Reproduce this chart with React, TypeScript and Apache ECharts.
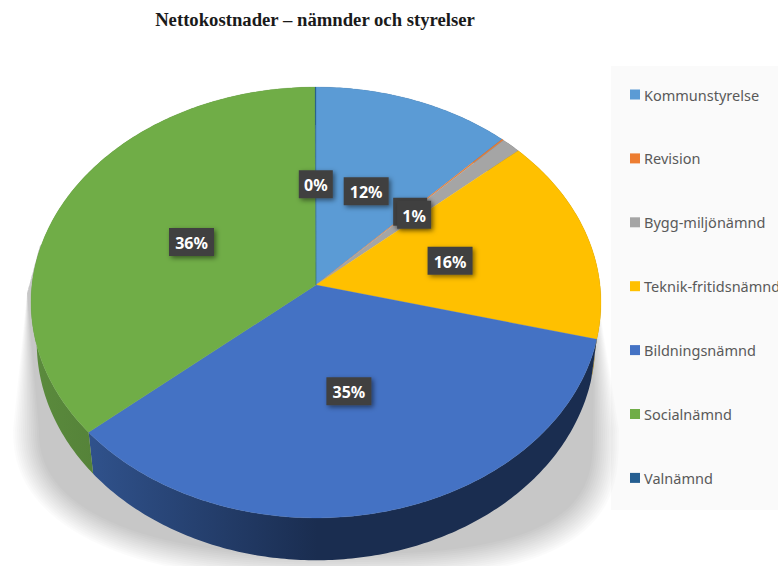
import React, { useEffect, useRef } from "react";
import * as echarts from "echarts";

const titleText = "Nettokostnader – nämnder och styrelser";
const categories = ["Kommunstyrelse", "Revision", "Bygg-miljönämnd", "Teknik-fritidsnämnd", "Bildningsnämnd", "Socialnämnd", "Valnämnd"];
const shares = [12.2, 0.1, 1.2, 15.5, 34.7, 36.25, 0.05];
const faceColors = ["#5B9BD5", "#ED7D31", "#A5A5A5", "#FFC000", "#4472C4", "#70AD47", "#255E91"];
const wallStart = ["#365d80", "#8e4b1d", "#636363", "#997300", "#30528c", "#5b8b3d", "#163855"];
const wallEnd = ["#365d80", "#8e4b1d", "#636363", "#997300", "#1a2d50", "#4f7a35", "#163855"];

// Perspective pie: a tilted disc projected to the page
const CX = 316, CY = 285, SX = 284, SY = 214, K = 0.0812;
const project = (deg: number, r = 1): [number, number] => {
  const a = (deg * Math.PI) / 180;
  const X = r * Math.sin(a), Y = -r * Math.cos(a);
  const w = 1 - K * Y;
  return [CX + (SX * X) / w, CY + (SY * Y) / w];
};
const bottom = (p: [number, number]): [number, number] => [CX + (p[0] - CX) * 0.98, CY + (p[1] - CY) * 1.01 + 40];

const total = shares.reduce((a, b) => a + b, 0);
let running = 0;
const ranges = shares.map((v) => {
  const s = (running / total) * 360;
  running += v;
  return [s, (running / total) * 360, v];
});

const arc = (s: number, e: number) => {
  const n = Math.max(2, Math.ceil((e - s) / 0.75));
  const pts: [number, number][] = [];
  for (let i = 0; i <= n; i++) pts.push(project(s + ((e - s) * i) / n));
  return pts;
};

// Soft cast shadow: nested translucent outlines that fade outwards
const shadowLayers = 14;
const shadowOutline = (t: number) => {
  const pts: [number, number][] = [[595, 280]];
  for (let d = 0; d <= 180; d += 3) {
    const a = (d * Math.PI) / 180;
    const c = Math.cos(a), s = Math.sin(a);
    const n = c >= 0 ? 3 : 2.3;
    const x = Math.sign(c) * Math.pow(Math.abs(c), 2 / n);
    const y = Math.pow(s, 2 / n);
    pts.push([316 + 303 * t * x, 430 + 150 * (1 - 2 * (1 - t)) * y]);
  }
  pts.push([27, 293], [40, 245]);
  return pts;
};
const layerIndex = Array.from({ length: shadowLayers }, (_, i) => [i]);

export default function App() {
  const ref = useRef<HTMLDivElement>(null);
  useEffect(() => {
    document.body.style.margin = "0";
    document.body.style.overflow = "hidden";
    const chart = echarts.init(ref.current!, undefined, { renderer: "svg" });
    const faceSeries = categories.map((name, i) => ({
      type: "custom",
      name,
      coordinateSystem: "none",
      z: 3,
      itemStyle: { color: faceColors[i] },
      data: [ranges[i]],
      renderItem: (_p: any, api: any) => ({
        type: "polygon",
        shape: { points: [project(0, 0), ...arc(api.value(0), api.value(1))] },
        style: { fill: faceColors[i], stroke: faceColors[i], lineWidth: 0.3 },
      }),
    }));
    chart.setOption({
      animation: false,
      backgroundColor: "#ffffff",
      title: {
        text: titleText,
        left: 310,
        top: 5,
        textAlign: "center",
        textStyle: { fontFamily: "Liberation Serif", fontWeight: "bold", fontSize: 18.7, color: "#1a1a1a" },
      },
      legend: {
        orient: "vertical",
        left: 630,
        top: 87,
        padding: 0,
        itemWidth: 10,
        itemHeight: 10,
        itemGap: 48.9,
        icon: "rect",
        z: 6,
        data: categories,
        selectedMode: false,
        textStyle: { fontFamily: "Noto Sans", fontSize: 14.5, color: "#595959", lineHeight: 14, padding: [0, 0, 0, -1] },
      },
      graphic: [
        { type: "rect", z: 0, shape: { x: 611, y: 66, width: 167, height: 444 }, style: { fill: "#fafafa" } },
      ],
      series: [
        {
          type: "custom",
          name: "shadow",
          coordinateSystem: "none",
          z: 1,
          data: layerIndex,
          renderItem: (_p: any, api: any) => ({
            type: "polygon",
            shape: { points: shadowOutline(1 - (api.value(0) * 0.085) / (shadowLayers - 1)) },
            style: { fill: "rgba(0,0,0,0.0158)" },
          }),
        },
        {
          type: "custom",
          name: "walls",
          coordinateSystem: "none",
          z: 2,
          data: ranges,
          renderItem: (p: any, api: any) => {
            const top = arc(api.value(0), api.value(1));
            const low = top.map(bottom).reverse();
            return {
              type: "polygon",
              shape: { points: [...top, ...low] },
              style: {
                fill: {
                  type: "linear", x: 0, y: 0, x2: 1, y2: 0,
                  colorStops: [
                    { offset: 0, color: wallStart[p.dataIndex] },
                    { offset: 0.45, color: wallEnd[p.dataIndex] },
                    { offset: 1, color: wallEnd[p.dataIndex] },
                  ],
                },
              },
            };
          },
        },
        ...faceSeries,
        {
          type: "custom",
          name: "labels",
          coordinateSystem: "none",
          z: 4,
          data: ranges,
          renderItem: (_p: any, api: any) => {
            const [x, y] = project((api.value(0) + api.value(1)) / 2, 0.49);
            const text = Math.round(api.value(2)) + "%";
            const w = text.length === 2 ? 34 : 45;
            return {
              type: "group",
              children: [
                {
                  type: "rect",
                  shape: { x: x - w / 2, y: y - 14, width: w, height: 28 },
                  style: { fill: "#404040", shadowBlur: 5, shadowColor: "rgba(0,0,0,0.5)", shadowOffsetX: 2, shadowOffsetY: 2 },
                },
                {
                  type: "text",
                  x,
                  y: y + 1,
                  style: {
                    text,
                    font: "bold 16px 'Noto Sans'",
                    fill: "#ffffff",
                    align: "center",
                    verticalAlign: "middle",
                  },
                },
              ],
            };
          },
        },
      ],
    });
    return () => chart.dispose();
  }, []);
  return <div ref={ref} style={{ width: 778, height: 566 }} />;
}
